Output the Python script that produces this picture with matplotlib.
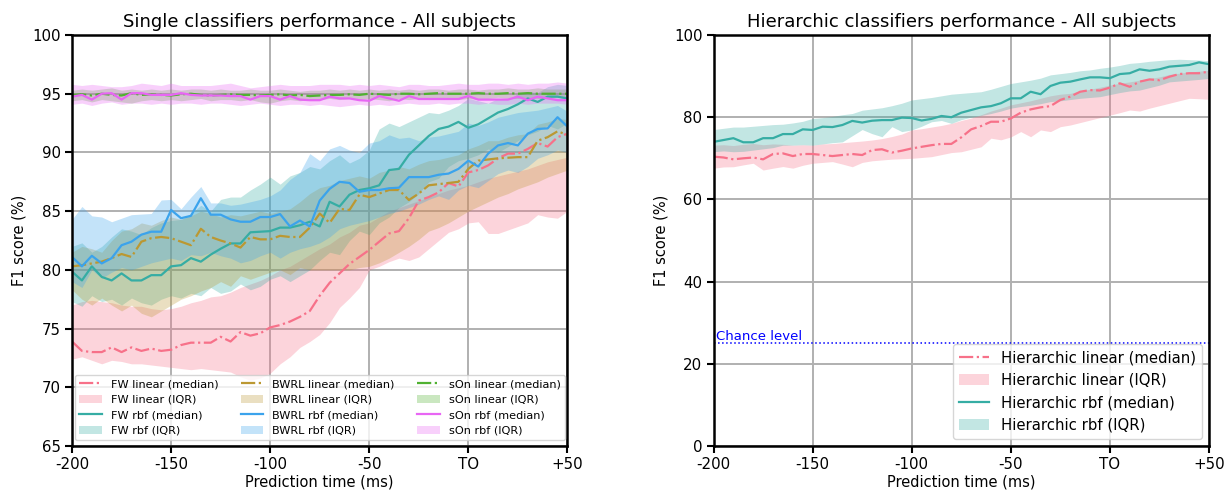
import numpy as np
import matplotlib
matplotlib.use("Agg")
import matplotlib.pyplot as plt
import seaborn as sns

# prediction times (ms), -200 .. +50 step 5
times = list(range(-200, 55, 5))
tick_pos = [-200, -150, -100, -50, 0, 50]
tick_lab = ['-200', '-150', '-100', '-50', 'TO', '+50']

# ---- single classifiers ----
fw_lin_med = [73.9, 73.1, 73.0, 73.0, 73.4, 73.0, 73.4, 73.1, 73.3, 73.1,
              73.2, 73.6, 73.8, 73.8, 73.8, 74.3, 73.9, 74.7, 74.4, 74.6,
              75.1, 75.3, 75.6, 76.0, 76.5, 77.8, 78.9, 79.7, 80.5, 81.1,
              81.7, 82.4, 83.1, 83.3, 84.4, 85.9, 86.2, 86.6, 87.4, 87.1,
              88.3, 88.5, 88.9, 89.5, 89.9, 89.9, 90.3, 90.8, 90.5, 91.3, 91.6]
fw_lin_lo = [72.4, 72.6, 72.3, 72.0, 72.3, 72.2, 72.0, 72.0, 71.9, 71.8,
             71.7, 71.6, 71.5, 71.6, 71.5, 71.4, 71.3, 70.9, 70.6, 70.8,
             71.2, 72.0, 72.6, 73.4, 73.9, 74.5, 75.5, 76.8, 77.6, 78.5,
             80.0, 80.3, 80.7, 81.0, 80.8, 81.1, 81.8, 82.5, 83.2, 83.5,
             84.0, 84.1, 83.1, 83.1, 83.4, 83.7, 84.0, 84.7, 84.5, 84.4, 85.0]
fw_lin_hi = [77.0, 77.3, 77.4, 77.3, 77.2, 77.0, 76.9, 76.9, 76.7, 76.6,
             76.7, 76.9, 77.2, 77.4, 77.7, 77.8, 78.1, 78.5, 78.8, 79.1,
             79.5, 80.0, 80.3, 80.8, 81.3, 81.8, 82.2, 82.8, 83.2, 83.8,
             84.0, 84.5, 85.0, 85.3, 85.6, 85.9, 86.2, 86.5, 86.8, 87.0,
             87.2, 87.5, 87.8, 88.0, 88.2, 88.4, 88.6, 88.9, 89.2, 89.4, 89.6]

fw_rbf_med = [79.85, 79.1, 80.3, 79.4, 79.1, 79.7, 79.1, 79.1, 79.55, 79.55,
              80.3, 80.4, 81.0, 80.7, 81.3, 81.8, 82.25, 82.25, 83.2, 83.25,
              83.3, 83.6, 83.6, 83.8, 84.1, 83.7, 85.8, 85.4, 86.4, 86.8,
              86.95, 87.2, 88.5, 88.6, 89.8, 90.6, 91.4, 92.0, 92.2, 92.6,
              92.1, 92.4, 92.9, 93.4, 93.7, 94.1, 94.6, 94.3, 94.75, 94.75, 94.6]
fw_rbf_lo = [77.3, 76.9, 77.8, 77.3, 77.5, 77.0, 77.6, 77.2, 77.0, 77.5,
             77.8, 77.6, 78.0, 77.8, 78.5, 78.0, 78.2, 78.8, 78.3, 78.6,
             79.2, 79.5, 79.0, 79.5, 80.0, 80.8, 81.5, 81.3, 82.5, 83.3,
             83.0, 84.0, 84.5, 85.3, 85.8, 86.5, 87.5, 87.8, 88.8, 89.3,
             89.5, 89.8, 90.3, 90.0, 90.5, 91.0, 91.5, 91.8, 92.3, 92.0, 92.5]
fw_rbf_hi = [82.0, 82.3, 81.5, 82.0, 82.8, 83.5, 83.3, 83.0, 83.6, 84.0,
             84.2, 84.3, 84.8, 85.5, 85.0, 86.0, 86.2, 86.2, 86.8, 87.3,
             87.9, 87.3, 88.0, 88.3, 88.8, 88.6, 89.3, 89.8, 89.1, 89.5,
             90.2, 92.0, 92.5, 92.2, 92.6, 93.0, 93.4, 93.3, 93.6, 94.0,
             94.6, 94.4, 94.2, 94.6, 94.5, 95.0, 95.2, 95.1, 95.6, 95.8, 95.7]

bw_lin_med = [80.3, 80.4, 80.55, 80.7, 81.0, 81.35, 81.1, 82.4, 82.7, 82.8,
              82.7, 82.4, 82.1, 83.5, 82.8, 82.5, 82.25, 81.9, 82.8, 82.6,
              82.6, 82.9, 82.8, 82.8, 83.6, 84.8, 84.0, 85.2, 85.1, 86.4,
              86.2, 86.5, 86.8, 86.8, 85.95, 86.5, 87.2, 87.3, 87.4, 87.5,
              88.6, 89.3, 89.4, 89.5, 89.55, 89.6, 89.6, 91.0, 91.3, 91.8, 91.5]
bw_lin_lo = [78.3, 77.5, 77.0, 77.6, 77.0, 76.5, 77.0, 76.3, 76.0, 76.5,
             77.0, 77.5, 77.8, 78.2, 78.5, 79.0, 78.6, 79.5, 79.2, 79.5,
             79.8, 80.0, 79.6, 80.2, 80.0, 80.0, 80.0, 80.0, 80.0, 80.2,
             80.3, 80.6, 81.0, 81.5, 82.0, 82.6, 83.3, 83.6, 84.0, 84.5,
             85.0, 85.4, 85.8, 86.2, 86.5, 86.9, 87.2, 87.5, 87.9, 88.2, 88.5]
bw_lin_hi = [81.5, 82.0, 81.8, 81.5, 82.5, 83.3, 83.5, 84.0, 83.8, 84.2,
             84.5, 84.3, 84.6, 85.0, 84.8, 84.5, 84.7, 84.6, 84.8, 85.0,
             84.8, 85.0, 85.2, 85.8, 86.5, 87.0, 87.2, 87.6, 87.8, 88.0,
             87.8, 88.3, 88.5, 88.8, 88.6, 89.0, 89.3, 89.4, 89.6, 89.8,
             90.3, 90.6, 91.0, 91.0, 91.3, 91.5, 91.6, 92.4, 92.6, 92.9, 92.8]

bw_rbf_med = [81.1, 80.3, 81.2, 80.55, 81.0, 82.1, 82.4, 83.0, 83.25, 83.25,
              85.1, 84.4, 84.6, 86.1, 84.7, 84.7, 84.3, 84.1, 84.1, 84.5,
              84.5, 84.75, 83.7, 84.2, 83.7, 85.9, 86.9, 87.5, 87.4, 86.65,
              86.8, 86.8, 86.95, 87.0, 87.9, 87.9, 87.9, 88.1, 88.2, 88.6,
              89.3, 88.8, 89.9, 90.6, 90.8, 90.6, 91.6, 92.0, 92.05, 93.0, 92.2]
bw_rbf_lo = [79.0, 78.5, 80.0, 79.3, 79.8, 80.2, 80.0, 80.3, 80.6, 80.8,
             81.0, 80.8, 81.3, 81.2, 81.5, 81.2, 81.0, 80.6, 80.8, 81.2,
             81.5, 81.0, 81.5, 81.8, 82.0, 82.3, 82.8, 83.5, 83.8, 84.0,
             84.2, 84.5, 84.8, 85.0, 85.3, 85.6, 86.0, 86.3, 86.0, 86.8,
             87.2, 87.0, 87.6, 88.2, 88.5, 88.3, 88.8, 89.5, 89.8, 90.2, 90.0]
bw_rbf_hi = [84.3, 85.4, 84.6, 84.5, 84.1, 84.4, 84.7, 84.75, 84.8, 85.95,
             86.0, 85.2, 86.2, 87.1, 85.7, 85.7, 85.5, 85.6, 85.8, 86.0,
             86.3, 86.8, 87.7, 88.3, 89.9, 89.3, 90.3, 90.6, 90.2, 90.0,
             90.8, 91.0, 91.5, 91.2, 91.3, 91.0, 91.3, 91.4, 91.6, 91.8,
             92.5, 92.3, 92.6, 93.0, 93.2, 93.4, 93.5, 93.6, 93.8, 94.0, 93.5]

son_lin_med = [94.9, 94.95, 94.85, 95.0, 94.9, 94.85, 95.05, 94.9, 94.95, 94.9,
               94.85, 94.95, 95.0, 94.9, 94.85, 94.9, 94.95, 94.9, 94.9, 94.85,
               94.9, 94.95, 94.85, 94.9, 94.8, 94.85, 94.9, 94.9, 94.95, 94.9,
               95.0, 94.95, 94.9, 95.0, 95.0, 94.95, 95.0, 95.05, 95.0, 95.0,
               95.0, 95.05, 95.0, 95.0, 95.05, 95.0, 95.05, 95.0, 95.0, 95.0, 95.0]
son_lin_lo = [94.4, 94.5, 94.3, 94.5, 94.4, 94.3, 94.2, 94.4, 94.5, 94.4,
              94.5, 94.4, 94.5, 94.6, 94.4, 94.5, 94.5, 94.4, 94.5, 94.3,
              94.2, 94.4, 94.5, 94.4, 94.5, 94.5, 94.6, 94.5, 94.6, 94.5,
              94.6, 94.5, 94.4, 94.6, 94.5, 94.6, 94.5, 94.6, 94.6, 94.5,
              94.6, 94.5, 94.6, 94.7, 94.6, 94.6, 94.7, 94.6, 94.6, 94.7, 94.6]
son_lin_hi = [95.3, 95.4, 95.3, 95.4, 95.5, 95.3, 95.4, 95.3, 95.4, 95.3,
              95.4, 95.3, 95.4, 95.4, 95.3, 95.4, 95.3, 95.3, 95.4, 95.3,
              95.3, 95.4, 95.3, 95.2, 95.3, 95.3, 95.4, 95.3, 95.4, 95.3,
              95.4, 95.3, 95.4, 95.3, 95.4, 95.3, 95.4, 95.4, 95.3, 95.4,
              95.4, 95.3, 95.4, 95.4, 95.5, 95.4, 95.4, 95.5, 95.4, 95.4, 95.4]

son_rbf_med = [94.75, 94.9, 94.5, 95.0, 95.05, 94.5, 95.05, 95.05, 94.9, 94.9,
               94.9, 95.05, 94.9, 94.85, 94.85, 94.85, 94.8, 94.8, 94.5, 94.8,
               94.8, 94.5, 94.8, 94.5, 94.45, 94.45, 94.75, 94.6, 94.6, 94.45,
               94.4, 94.8, 94.6, 94.4, 94.8, 94.55, 94.55, 94.55, 94.55, 94.55,
               94.8, 94.5, 94.5, 94.5, 94.5, 94.75, 94.45, 94.75, 94.6, 94.45, 94.45]
son_rbf_lo = [94.1, 94.2, 94.0, 94.2, 94.3, 94.1, 94.2, 94.2, 94.1, 94.2,
              94.1, 94.2, 94.2, 94.1, 94.2, 94.2, 94.1, 94.0, 94.1, 94.2,
              94.1, 94.0, 94.1, 94.1, 94.0, 94.1, 94.0, 93.9, 94.0, 94.1,
              94.0, 94.1, 94.0, 94.1, 94.2, 94.1, 94.1, 94.2, 94.1, 94.2,
              94.2, 94.1, 94.2, 94.1, 94.1, 94.2, 94.1, 94.2, 94.2, 94.2, 94.1]
son_rbf_hi = [95.8, 95.7, 95.8, 95.7, 95.6, 95.6, 95.7, 95.9, 95.8, 95.7,
              95.9, 95.7, 95.7, 95.7, 95.7, 95.8, 95.9, 95.7, 95.5, 95.6,
              95.7, 95.8, 95.7, 95.7, 95.7, 95.8, 95.8, 95.8, 95.7, 95.8,
              95.7, 95.8, 95.7, 95.6, 95.8, 95.8, 95.7, 95.7, 95.8, 95.9,
              95.8, 95.8, 95.9, 95.9, 95.8, 95.9, 95.8, 95.9, 95.9, 96.0, 95.9]

# ---- hierarchic classifiers ----
hier_lin_med = [70.4, 70.2, 69.75, 70.0, 70.2, 69.75, 71.05, 71.2, 70.55, 71.05,
                71.05, 70.8, 70.55, 70.8, 71.05, 70.8, 72.0, 72.2, 71.4, 71.85,
                72.4, 72.8, 73.2, 73.5, 73.5, 75.1, 77.05, 77.85, 78.9, 78.9,
                79.7, 81.1, 81.9, 82.4, 82.7, 84.2, 85.0, 86.2, 86.6, 86.5,
                87.2, 88.25, 87.4, 88.65, 89.2, 89.0, 89.85, 90.5, 90.7, 90.7, 91.1]
hier_lin_lo = [67.6, 67.9, 67.95, 68.4, 68.8, 67.15, 67.6, 68.0, 67.6, 68.3,
               68.8, 69.0, 69.2, 68.6, 67.95, 69.0, 69.4, 69.6, 69.8, 69.9,
               70.0, 70.2, 70.4, 70.9, 71.4, 71.6, 72.2, 72.8, 74.9, 74.5,
               75.2, 76.5, 75.25, 76.9, 76.5, 77.7, 78.1, 78.7, 79.3, 79.9,
               80.5, 81.1, 81.75, 81.5, 82.2, 82.8, 83.4, 84.0, 84.6, 84.5, 84.35]
hier_lin_hi = [73.2, 73.3, 73.1, 73.4, 73.6, 73.3, 73.5, 73.4, 73.2, 73.3,
               73.2, 73.5, 73.6, 73.8, 74.0, 74.2, 74.45, 74.8, 75.3, 75.9,
               76.9, 77.2, 77.6, 78.0, 78.5, 79.2, 79.8, 80.6, 81.5, 82.2,
               83.0, 83.5, 84.0, 84.6, 85.2, 85.6, 85.8, 86.4, 86.8, 87.3,
               87.8, 88.25, 88.6, 89.0, 89.4, 89.8, 90.4, 90.7, 91.0, 91.2, 91.4]

hier_rbf_med = [74.0, 74.45, 74.9, 73.9, 73.9, 74.9, 74.9, 75.9, 75.9, 77.05,
                76.9, 77.7, 77.6, 78.1, 79.1, 78.7, 79.15, 79.3, 79.3, 79.9,
                79.8, 79.2, 79.6, 80.3, 80.0, 81.1, 81.75, 82.4, 82.7, 83.4,
                84.6, 84.6, 86.2, 85.6, 87.6, 88.4, 88.65, 89.2, 89.7, 89.7,
                89.5, 90.5, 90.7, 91.65, 91.3, 91.65, 92.3, 92.5, 92.7, 93.35, 92.9]
hier_rbf_lo = [71.6, 71.8, 71.6, 71.7, 72.0, 72.3, 72.6, 73.2, 73.2, 73.3,
               73.2, 73.5, 73.8, 74.0, 75.5, 77.0, 76.0, 75.25, 77.7, 76.5,
               76.9, 77.8, 78.9, 79.2, 78.5, 79.4, 80.0, 80.4, 80.9, 81.5,
               82.2, 82.6, 82.9, 83.3, 83.8, 84.0, 84.3, 84.6, 84.8, 85.0,
               85.5, 86.0, 86.4, 86.6, 87.2, 87.8, 88.6, 88.8, 89.0, 89.2, 89.45]
hier_rbf_hi = [77.0, 77.3, 77.6, 77.6, 77.8, 78.0, 78.2, 78.3, 78.6, 79.0,
               79.7, 79.9, 80.2, 80.6, 80.9, 81.7, 82.0, 82.3, 82.8, 83.4,
               84.2, 84.5, 84.8, 85.2, 85.6, 85.8, 86.0, 86.2, 86.8, 87.5,
               88.2, 88.6, 89.0, 89.5, 90.3, 90.6, 90.9, 91.3, 91.5, 91.9,
               92.2, 92.6, 93.1, 93.3, 93.6, 93.8, 94.0, 94.1, 94.0, 93.9, 93.75]

chance = 25

pal = sns.color_palette('husl', 6)
# husl order: pink, gold, green, teal, blue, magenta
c_fw_lin, c_bw_lin, c_son_lin, c_fw_rbf, c_bw_rbf, c_son_rbf = pal

fig, (ax1, ax2) = plt.subplots(1, 2, figsize=(12.27, 4.91), dpi=100)
fig.subplots_adjust(left=0.0587, right=0.9853, bottom=0.0916, top=0.9287, wspace=0.295)

single = [
    ('FW', fw_lin_med, fw_lin_lo, fw_lin_hi, c_fw_lin, fw_rbf_med, fw_rbf_lo, fw_rbf_hi, c_fw_rbf),
    ('BWRL', bw_lin_med, bw_lin_lo, bw_lin_hi, c_bw_lin, bw_rbf_med, bw_rbf_lo, bw_rbf_hi, c_bw_rbf),
    ('sOn', son_lin_med, son_lin_lo, son_lin_hi, c_son_lin, son_rbf_med, son_rbf_lo, son_rbf_hi, c_son_rbf),
]

for name, lm, ll, lh, lc, rm, rl, rh, rc in single:
    ax1.plot(times, lm, '-.', color=lc, lw=1.6, label=name + ' linear (median)')
    ax1.fill_between(times, ll, lh, color=lc, alpha=0.3, lw=0, label=name + ' linear (IQR)')
    ax1.plot(times, rm, '-', color=rc, lw=1.6, label=name + ' rbf (median)')
    ax1.fill_between(times, rl, rh, color=rc, alpha=0.3, lw=0, label=name + ' rbf (IQR)')

ax2.plot(times, hier_lin_med, '-.', color=c_fw_lin, lw=1.6, label='Hierarchic linear (median)')
ax2.fill_between(times, hier_lin_lo, hier_lin_hi, color=c_fw_lin, alpha=0.3, lw=0,
                 label='Hierarchic linear (IQR)')
ax2.plot(times, hier_rbf_med, '-', color=c_fw_rbf, lw=1.6, label='Hierarchic rbf (median)')
ax2.fill_between(times, hier_rbf_lo, hier_rbf_hi, color=c_fw_rbf, alpha=0.3, lw=0,
                 label='Hierarchic rbf (IQR)')
ax2.axhline(chance, color='blue', ls=':', lw=1.1)
ax2.text(-199, chance + 0.8, 'Chance level', color='blue', fontsize=9.5)

for ax in (ax1, ax2):
    ax.set_xlim(-200, 50)
    ax.set_xticks(tick_pos)
    ax.set_xticklabels(tick_lab)
    ax.grid(True, color='#b0b0b0', lw=1.4)
    ax.set_axisbelow(True)
    ax.set_xlabel('Prediction time (ms)', fontsize=10.5, labelpad=1.5)
    ax.set_ylabel('F1 score (%)', fontsize=10.5)
    for s in ax.spines.values():
        s.set_linewidth(1.8)
    ax.tick_params(width=1.5, length=5, labelsize=10.8, pad=3)

ax1.set_ylim(65, 100)
ax1.set_yticks(range(65, 101, 5))
ax1.set_title('Single classifiers performance - All subjects', fontsize=13)
ax1.legend(ncol=3, fontsize=8.1, loc='lower center')

ax2.set_ylim(0, 100)
ax2.set_yticks(range(0, 101, 20))
ax2.set_title('Hierarchic classifiers performance - All subjects', fontsize=13)
ax2.legend(fontsize=10.7, loc='lower right')

plt.savefig('out.png')
